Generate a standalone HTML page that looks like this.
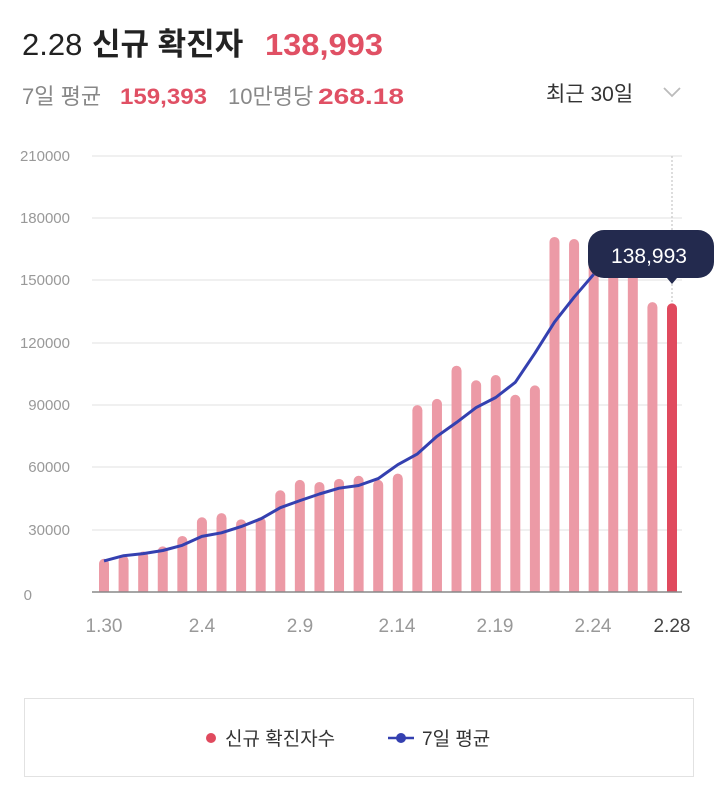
<!DOCTYPE html>
<html><head><meta charset="utf-8"><style>
body{margin:0;background:#fff;font-family:"Liberation Sans","Noto Sans CJK KR",sans-serif;}
.wrap{position:relative;width:724px;height:794px;overflow:hidden}
</style></head><body><div class="wrap">
<svg width="724" height="794" xmlns="http://www.w3.org/2000/svg" style="position:absolute;left:0;top:0" font-family="Liberation Sans, Noto Sans CJK KR, sans-serif">
<text x="22" y="55" font-size="31" fill="#222">2.28</text>
<text x="92" y="55" font-size="31" fill="#222" font-weight="bold">신규 확진자</text>
<text x="265" y="55" font-size="31" fill="#e05064" font-weight="bold" textLength="118" lengthAdjust="spacingAndGlyphs">138,993</text>
<text x="22" y="104" font-size="22" fill="#888">7일 평균</text>
<text x="120" y="104" font-size="22" fill="#e05064" font-weight="bold" textLength="87" lengthAdjust="spacingAndGlyphs">159,393</text>
<text x="228" y="104" font-size="22" fill="#888">10만명당</text>
<text x="318" y="104" font-size="22" fill="#e05064" font-weight="bold" textLength="86" lengthAdjust="spacingAndGlyphs">268.18</text>
<text x="546" y="101" font-size="21" fill="#333">최근 30일</text>
<polyline points="664,88 672,96 680,88" fill="none" stroke="#bbb" stroke-width="1.8"/>
<g stroke="#ececec" stroke-width="1.5">
<line x1="92" y1="156" x2="682" y2="156"/><line x1="92" y1="218" x2="682" y2="218"/><line x1="92" y1="280" x2="682" y2="280"/><line x1="92" y1="343" x2="682" y2="343"/><line x1="92" y1="405" x2="682" y2="405"/><line x1="92" y1="467" x2="682" y2="467"/><line x1="92" y1="530" x2="682" y2="530"/>
</g>
<line x1="672" y1="156" x2="672" y2="590" stroke="#bbb" stroke-dasharray="2,2"/>
<g font-size="15" fill="#999" text-anchor="end">
<text x="70" y="161">210000</text><text x="70" y="223">180000</text><text x="70" y="285">150000</text><text x="70" y="348">120000</text><text x="70" y="410">90000</text><text x="70" y="472">60000</text><text x="70" y="535">30000</text><text x="32" y="600">0</text>
</g>
<g id="bars" fill="#ec9aa6"></g>
<line x1="92" y1="592" x2="682" y2="592" stroke="#888" stroke-width="1.5"/>
<polyline id="avg" fill="none" stroke="#3440b0" stroke-width="3" stroke-linejoin="round"/>
<g font-size="19" fill="#999" text-anchor="middle">
<text x="104" y="632">1.30</text><text x="202" y="632">2.4</text><text x="300" y="632">2.9</text><text x="397" y="632">2.14</text><text x="495" y="632">2.19</text><text x="593" y="632">2.24</text><text x="672" y="632" fill="#444">2.28</text>
</g>
<path d="M604,230 H698 a16,16 0 0 1 16,16 V262 a16,16 0 0 1 -16,16 H677 L672,284 L667,278 H604 a16,16 0 0 1 -16,-16 V246 a16,16 0 0 1 16,-16Z" fill="#232a4e"/>
<text x="649" y="263" font-size="21" fill="#fff" text-anchor="middle">138,993</text>
<rect x="24.5" y="698.5" width="669" height="78" fill="none" stroke="#e2e2e2"/>
<circle cx="211" cy="738" r="5" fill="#e04a5e"/>
<text x="225" y="745" font-size="19" fill="#333">신규 확진자수</text>
<line x1="388" y1="738" x2="414" y2="738" stroke="#3440b0" stroke-width="2.5"/>
<circle cx="401" cy="738" r="5" fill="#3440b0"/>
<text x="422" y="745" font-size="19" fill="#333">7일 평균</text>
</svg>
<script>
var v=[16000,17500,19500,22000,27000,36000,38000,35000,36000,49000,54000,53000,54500,56000,54000,57000,90000,93000,109000,102000,104500,95000,99500,171000,170000,163500,163500,165000,139600,139000];
var a=[15000,17500,18500,20000,22500,26800,28500,31500,35200,40600,44000,47200,50000,51300,54600,61300,66500,75000,81700,88800,93700,101000,115000,130000,142000,153000];
function Y(d){return 592-d*436/210000}
function X(i){return 104+i*(568/29)}
var g=document.getElementById('bars'),s='';
for(var i=0;i<30;i++){var y=Y(v[i]),x=X(i)-5;s+='<path d="M'+x+',592 V'+(y+5)+' a5,5 0 0 1 10,0 V592Z"'+(i==29?' fill="#e04a5e"':'')+'/>';}
g.innerHTML=s;
var p=[];for(var i=0;i<a.length;i++)p.push(X(i).toFixed(1)+','+Y(a[i]).toFixed(1));
document.getElementById('avg').setAttribute('points',p.join(' '));
</script>
</div></body></html>
